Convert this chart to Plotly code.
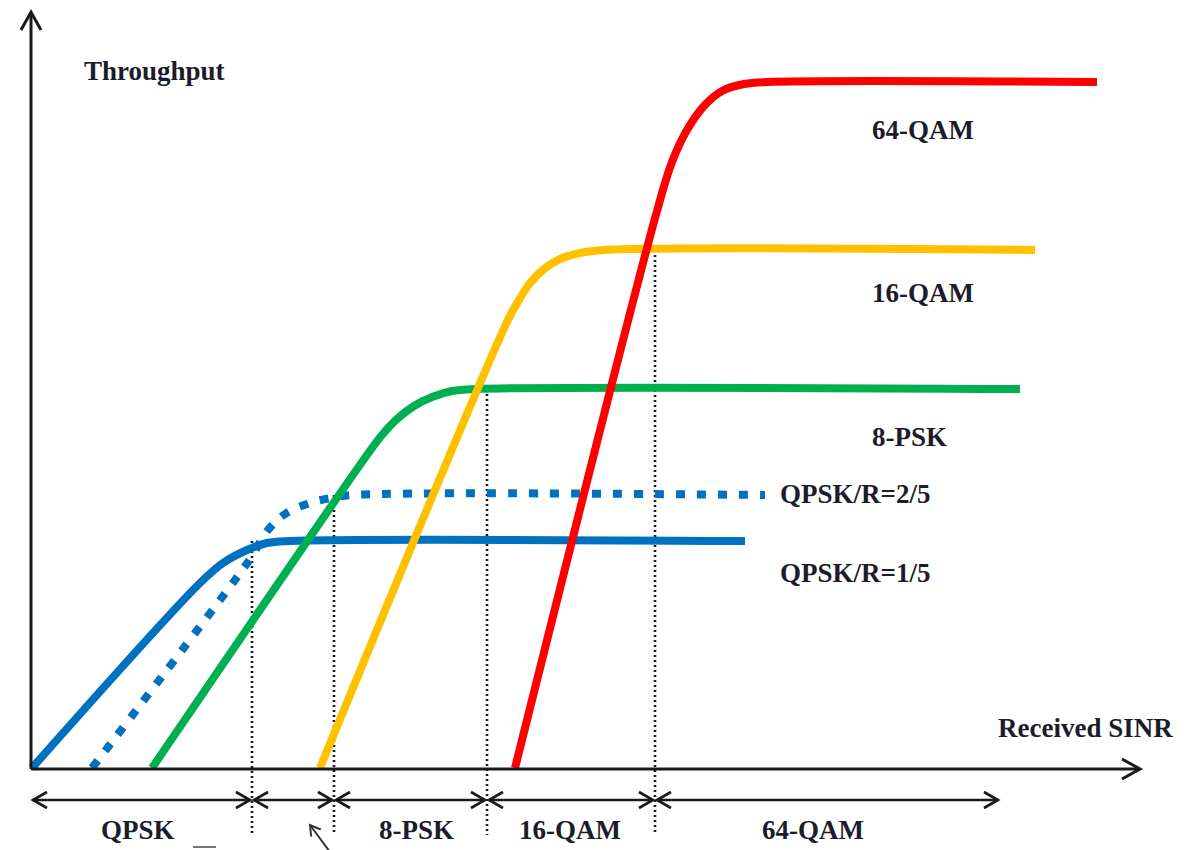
import math
import plotly.graph_objects as go

# ---------------- data (SINR units on x, throughput units on y) ----------------
sinr_qpsk15 = [0, 168, 191, 215, 235, 258, 713]
thr_qpsk15 = [0, 185, 205, 218, 225, 227, 227]

sinr_qpsk25 = [60, 203, 220, 236, 253, 275, 298, 321, 733]
thr_qpsk25 = [0, 188, 212, 238, 254, 264, 270, 273, 273]

sinr_8psk = [120, 335, 350, 365, 382, 400, 420, 445, 988]
thr_8psk = [0, 313, 333, 349, 362, 371, 377, 379, 379]

sinr_16qam = [288, 476, 487, 498, 512, 528, 548, 572, 1003]
thr_16qam = [0, 448, 468, 485, 499, 509, 515, 518, 518]

sinr_64qam = [483, 625, 640, 655, 672, 690, 712, 735, 1065]
thr_64qam = [0, 557, 606, 638, 662, 677, 684, 686, 686]

curve_names = ["QPSK/R=1/5", "QPSK/R=2/5", "8-PSK", "16-QAM", "64-QAM"]

# switching thresholds between modulation regions and the level each guide reaches
thresholds = [220, 302, 455, 623]
threshold_levels = [227, 273, 379, 518]

# modulation regions along the SINR axis
region_bounds = [(0, 220), (220, 302), (302, 455), (455, 623), (623, 968)]
region_labels = ["QPSK", "", "8-PSK", "16-QAM", "64-QAM"]
region_label_x = [106, None, 384, 538, 781]

# ---------------- styling ----------------
BLUE = "#0070C0"
GREEN = "#00B050"
YELLOW = "#FFC000"
RED = "#FF0000"
INK = "#1c1c2a"
FONT = "Liberation Serif"
FS = 27

fig = go.Figure()

curves = [
    (sinr_qpsk15, thr_qpsk15, BLUE, "solid"),
    (sinr_qpsk25, thr_qpsk25, BLUE, "9px,12px"),
    (sinr_8psk, thr_8psk, GREEN, "solid"),
    (sinr_16qam, thr_16qam, YELLOW, "solid"),
    (sinr_64qam, thr_64qam, RED, "solid"),
]
for (xs, ys, col, dash), name in zip(curves, curve_names):
    fig.add_trace(go.Scatter(
        x=xs, y=ys, mode="lines", name=name,
        line=dict(color=col, width=8, dash=dash, shape="spline", smoothing=1.0),
        hoverinfo="skip",
    ))

shapes = []

# dotted guides
for xv, yt in zip(thresholds, threshold_levels):
    shapes.append(dict(type="line", x0=xv, x1=xv, y0=yt, y1=-67,
                       line=dict(color="#1a1a1a", width=2.6, dash="2px,3px"), layer="below"))

AX = "#1a1a1a"
# axes
shapes.append(dict(type="line", x0=-1, x1=1108, y0=-1, y1=-1, line=dict(color=AX, width=3)))
shapes.append(dict(type="line", x0=-1, x1=-1, y0=-1, y1=756, line=dict(color=AX, width=3)))


def chevron(tx, ty, ux, uy, length, half):
    # tip at (tx, ty), pointing in direction (ux, uy)
    bx, by = tx - ux * length, ty - uy * length
    px, py = -uy, ux
    return (f"M {bx + px * half},{by + py * half} L {tx},{ty} "
            f"L {bx - px * half},{by - py * half}")


shapes.append(dict(type="path", path=chevron(1108, -1, 1, 0, 18, 10),
                   line=dict(color=AX, width=3)))
shapes.append(dict(type="path", path=chevron(-1, 756, 0, 1, 18, 10),
                   line=dict(color=AX, width=3)))

# region arrows
ARROW_Y = -32
for (a, b) in region_bounds:
    a2 = a + 2 if a > 0 else a + 1
    b2 = b - 2
    shapes.append(dict(type="line", x0=a2, x1=b2, y0=ARROW_Y, y1=ARROW_Y,
                       line=dict(color=AX, width=2.6)))
    shapes.append(dict(type="path", path=chevron(a2, ARROW_Y, -1, 0, 14, 8),
                       line=dict(color=AX, width=2.6)))
    shapes.append(dict(type="path", path=chevron(b2, ARROW_Y, 1, 0, 14, 8),
                       line=dict(color=AX, width=2.6)))

# cut-off fragments at bottom edge
d = (-20 / math.hypot(20, 27), 27 / math.hypot(20, 27))
shapes.append(dict(type="line", x0=298, y0=-84, x1=278, y1=-57, line=dict(color="#333", width=2)))
shapes.append(dict(type="path", path=chevron(278, -57, d[0], d[1], 10, 6),
                   line=dict(color="#333", width=2)))
shapes.append(dict(type="line", x0=161, x1=184, y0=-79, y1=-79, line=dict(color="#777", width=2)))

annotations = []


def label(text, x, y, xanchor="center"):
    annotations.append(dict(x=x, y=y, text=f"<b>{text}</b>", showarrow=False,
                            xanchor=xanchor, yanchor="middle",
                            font=dict(family=FONT, size=FS, color=INK)))


label("Throughput", 50, 697, "left")
label("Received SINR", 1053, 40)

label("64-QAM", 838, 638, "left")
label("16-QAM", 838, 475, "left")
label("8-PSK", 838, 331, "left")
label("QPSK/R=2/5", 746, 274, "left")
label("QPSK/R=1/5", 746, 195, "left")

for txt, lx in zip(region_labels, region_label_x):
    if txt:
        label(txt, lx, -62)

fig.update_layout(
    width=1196, height=850,
    margin=dict(l=0, r=0, t=0, b=0),
    paper_bgcolor="white", plot_bgcolor="white",
    showlegend=False,
    xaxis=dict(range=[-32, 1164], visible=False, fixedrange=True),
    yaxis=dict(range=[-82, 768], visible=False, fixedrange=True),
    shapes=shapes,
    annotations=annotations,
)

fig.write_html("out.html", config={"displayModeBar": False},
               post_script="document.body.style.margin='0';document.body.style.overflow='hidden';")
